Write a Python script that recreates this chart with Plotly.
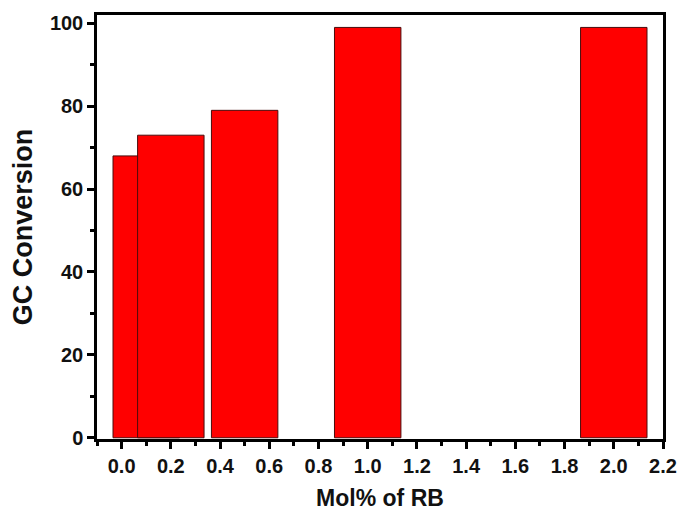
import plotly.graph_objects as go

mol_pct = [0.1, 0.2, 0.5, 1.0, 2.0]
gc_conversion = [68, 73, 79, 99, 99]
bar_width = 0.27

fig = go.Figure()
fig.add_trace(go.Bar(
    x=mol_pct, y=gc_conversion, width=bar_width,
    marker=dict(color="#FF0000", line=dict(color="#4a0c0c", width=1)),
))

font_family = "Liberation Sans, Arial, sans-serif"
fig.update_layout(
    width=677, height=511,
    margin=dict(l=97, r=14, t=15, b=72),
    paper_bgcolor="white", plot_bgcolor="white",
    showlegend=False,
    font=dict(family=font_family, color="#111111"),
    xaxis=dict(
        range=[-0.1, 2.2], tick0=0, dtick=0.2, tickformat=".1f",
        ticks="outside", ticklen=7, tickwidth=2.5, tickcolor="black",
        minor=dict(dtick=0.1, ticks="outside", ticklen=4, tickwidth=2.5, tickcolor="black"),
        showline=True, linewidth=2.5, linecolor="black", mirror=True,
        showgrid=False, zeroline=False, automargin=False,
        tickfont=dict(size=20, weight="bold", family=font_family),
        title=dict(text="Mol% of RB", font=dict(size=23, weight="bold", family=font_family), standoff=17),
    ),
    yaxis=dict(
        range=[-0.3, 102], tick0=0, dtick=20,
        ticks="outside", ticklen=7, tickwidth=2.5, tickcolor="black",
        minor=dict(dtick=10, ticks="outside", ticklen=4, tickwidth=2.5, tickcolor="black"),
        showline=True, linewidth=2.5, linecolor="black", mirror=True,
        showgrid=False, zeroline=False, automargin=False,
        tickfont=dict(size=20, weight="bold", family=font_family),
        title=dict(text="GC Conversion", font=dict(size=27, weight="bold", family=font_family), standoff=10),
    ),
)

fig.write_html("out.html")
